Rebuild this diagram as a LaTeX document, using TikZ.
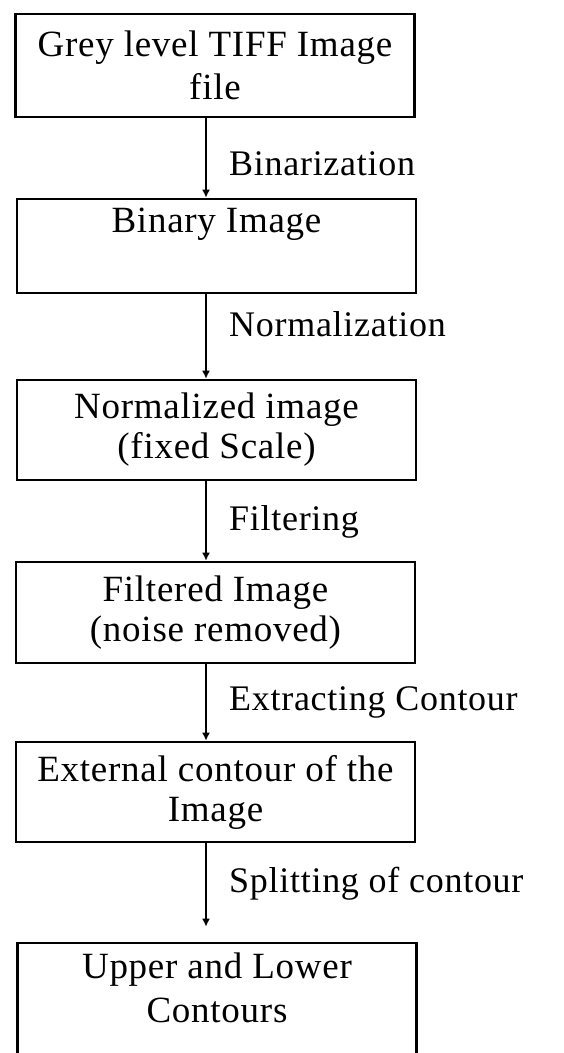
\documentclass[tikz,border=0pt]{standalone}
\usepackage{fontspec}
\setmainfont{Liberation Serif}[LetterSpace=2]
\usetikzlibrary{arrows.meta}

\begin{document}
\begin{tikzpicture}[x=1pt,y=-1pt,
    box/.style={draw, line width=2.6pt, minimum width=399pt, inner sep=0pt, align=center, font=\fontsize{37}{40}\selectfont},
    flow/.style={line width=2.6pt, -{Latex[length=8pt,width=8pt]}},
    lbl/.style={anchor=base west, inner sep=0pt, font=\fontsize{36}{40}\selectfont}]
        \useasboundingbox (0,0) rectangle (563,1053);

        % Draw the process boxes
        \node[box, minimum height=103pt, font=\fontsize{37}{43}\selectfont] (b1) at (215,65.5) {Grey level TIFF Image\\file};
        \node[box, minimum height=94pt] (b2) at (216.5,246) {Binary Image\\\strut};
        \node[box, minimum height=100pt] (b3) at (216.5,430) {Normalized image\\(fixed Scale)};
        \node[box, minimum height=101pt] (b4) at (215.5,612.5) {Filtered Image\\(noise removed)};
        \node[box, minimum height=100pt] (b5) at (215.5,792) {External contour of the\\Image};
        \node[box, minimum height=140pt, text depth=50pt, font=\fontsize{37}{44}\selectfont] (b6) at (217,1013) {Upper and Lower\\Contours};

        % Draw the connectors
        \coordinate (ax) at (206,0);
        \draw[flow] (b1.south -| ax) -- (b2.north -| ax);
        \draw[flow] (b2.south -| ax) -- (b3.north -| ax);
        \draw[flow] (b3.south -| ax) -- (b4.north -| ax);
        \draw[flow] (b4.south -| ax) -- (b5.north -| ax);
        \draw[flow] (b5.south -| ax) -- ([yshift=15pt]b6.north -| ax);

        % Label the steps
        \node[lbl] (l1) at (229,175) {Binarization};
        \node[lbl] (l2) at (229,336) {Normalization};
        \node[lbl] (l3) at (229,530) {Filtering};
        \node[lbl] (l4) at (229,710) {Extracting Contour};
        \node[lbl] (l5) at (229,892) {Splitting of contour};
\end{tikzpicture}
\end{document}
